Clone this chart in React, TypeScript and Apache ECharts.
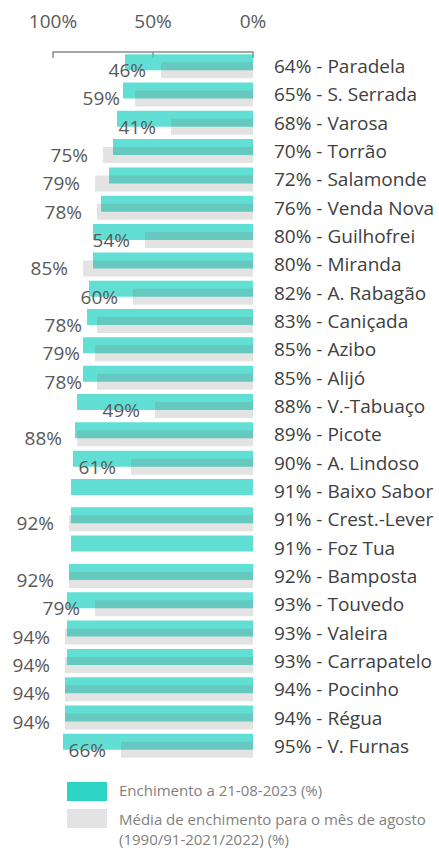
import React, { useEffect, useRef } from "react";
import * as echarts from "echarts";

const reservoirs = [
  "Paradela", "S. Serrada", "Varosa", "Torrão", "Salamonde", "Venda Nova", "Guilhofrei",
  "Miranda", "A. Rabagão", "Caniçada", "Azibo", "Alijó", "V.-Tabuaço", "Picote",
  "A. Lindoso", "Baixo Sabor", "Crest.-Lever", "Foz Tua", "Bamposta", "Touvedo",
  "Valeira", "Carrapatelo", "Pocinho", "Régua", "V. Furnas",
];
const currentFill = [64, 65, 68, 70, 72, 76, 80, 80, 82, 83, 85, 85, 88, 89, 90, 91, 91, 91, 92, 93, 93, 93, 94, 94, 95];
const augustAverage = [46, 59, 41, 75, 79, 78, 54, 85, 60, 78, 79, 78, 49, 88, 61, null, 92, null, 92, 79, 94, 94, 94, 94, 66];
const xTicks = [0, 50, 100];
const legendCurrent = "Enchimento a 21-08-2023 (%)";
const legendAverage = ["Média de enchimento para o mês de agosto", "(1990/91-2021/2022) (%)"];

const FONT = "Open Sans";

export default function App() {
  const ref = useRef<HTMLDivElement>(null);
  useEffect(() => {
    if (!ref.current) return;
    const chart = echarts.init(ref.current, undefined, { renderer: "svg" });
    chart.setOption({
      animation: false,
      textStyle: { fontFamily: FONT },
      grid: { left: 53, right: 186, top: 52, bottom: 91, containLabel: false },
      xAxis: {
        type: "value",
        position: "top",
        inverse: true,
        min: xTicks[0],
        max: xTicks[xTicks.length - 1],
        interval: 50,
        axisLine: { show: true, lineStyle: { color: "#8a8a8a", width: 1.5 } },
        axisTick: { show: true, inside: true, length: 6, lineStyle: { color: "#8a8a8a", width: 1.5 } },
        splitLine: { show: false },
        axisLabel: { formatter: "{value}%", color: "#595959", fontSize: 19, fontFamily: FONT, margin: 22 },
      },
      yAxis: {
        type: "category",
        data: reservoirs,
        inverse: true,
        position: "right",
        axisLine: { show: false },
        axisTick: { show: false },
        axisLabel: {
          color: "#404040",
          fontSize: 19,
          fontFamily: FONT,
          margin: 21,
          align: "left",
          formatter: (v: string, i: number) => `${currentFill[i]}% - ${v}`,
        },
      },
      series: [
        {
          name: legendCurrent,
          type: "bar",
          data: currentFill,
          barWidth: 16,
          barGap: "-50%",
          itemStyle: { color: "rgba(45,212,198,0.75)" },
        },
        {
          name: legendAverage.join(" "),
          type: "bar",
          data: augustAverage,
          barWidth: 16,
          barGap: "-50%",
          itemStyle: { color: "rgba(115,115,115,0.2)" },
          label: {
            show: true,
            position: "left",
            distance: 15,
            formatter: "{c}%",
            color: "#595959",
            fontSize: 19,
            fontFamily: FONT,
          },
        },
      ],
      graphic: [
        { type: "rect", left: 67, top: 782, shape: { width: 40, height: 19 }, style: { fill: "#2dd4c6" } },
        { type: "rect", left: 67, top: 809, shape: { width: 40, height: 19 }, style: { fill: "#e3e3e3" } },
        {
          type: "text", left: 119, top: 782,
          style: { text: legendCurrent, fill: "#7f7f7f", font: `15px "${FONT}"` },
        },
        {
          type: "text", left: 119, top: 809,
          style: { text: legendAverage.join("\n"), fill: "#7f7f7f", font: `15px "${FONT}"`, lineHeight: 20 },
        },
      ],
    });
    return () => chart.dispose();
  }, []);
  return <div ref={ref} style={{ width: 439, height: 851, position: "absolute", left: 0, top: 0 }} />;
}
